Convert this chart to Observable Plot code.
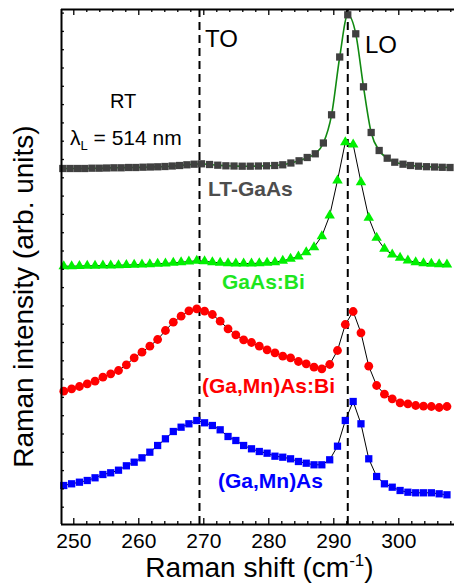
<!DOCTYPE html>
<html><head><meta charset="utf-8">
<script src="https://cdn.jsdelivr.net/npm/d3@7"></script>
<script src="https://cdn.jsdelivr.net/npm/@observablehq/plot@0.6"></script>
<style>
html,body{margin:0;padding:0;background:#fff;}
</style>
</head><body><div id="chart"></div>
<script>
// Raman shift sampling (cm^-1) for GaAs:Bi, (Ga,Mn)As:Bi and (Ga,Mn)As
const shiftGrid = [248.46, 249.67, 250.87, 252.07, 253.27, 254.48, 255.68, 256.88, 258.09, 259.29,
  260.49, 261.70, 262.90, 264.10, 265.31, 266.51, 267.71, 268.92, 270.12, 271.32,
  272.52, 273.73, 274.93, 276.13, 277.34, 278.54, 279.74, 280.95, 282.15, 283.35,
  284.56, 285.76, 286.96, 288.16, 289.37, 290.57, 291.77, 292.98, 294.18, 295.38,
  296.59, 297.79, 298.99, 300.20, 301.40, 302.60, 303.80, 305.01, 306.21, 307.41];
// Raman shift sampling for LT-GaAs
const ltShift = [248.31, 249.43, 250.55, 251.68, 252.80, 253.92, 255.05, 256.17, 257.29, 258.42,
  259.54, 260.66, 261.78, 262.91, 264.03, 265.15, 266.28, 267.40, 268.52, 269.65,
  270.89, 272.15, 273.40, 274.65, 275.91, 277.15, 278.40, 279.65, 280.91, 282.15,
  283.40, 284.66, 285.91, 287.15, 288.40, 289.66, 290.91, 292.15, 293.38, 294.57,
  295.75, 296.98, 298.22, 299.38, 300.65, 301.80, 303.03, 304.26, 305.49, 306.68, 307.88];
// Intensities (arb. units, vertically offset spectra)
const ltGaAs = [356, 356, 356, 356, 356.3, 356.3, 356.5, 356.7, 356.7, 357,
  357, 357.3, 357.5, 357.7, 358, 358.5, 359, 359.7, 360.3, 360.7,
  360, 359.3, 358.7, 358.5, 358.3, 358.3, 358.5, 358.7, 359, 359.7,
  361.5, 363.7, 367, 370.7, 381.5, 409.7, 467.5, 509.7, 490.7, 437.7,
  392, 374, 366.3, 362.3, 360.3, 359, 358.3, 357.8, 357.5, 357.2, 357];
const gaasBi = [258.3, 258.3, 258.5, 258.7, 258.7, 259, 259, 259.3, 259.5, 259.7,
  260, 260.3, 260.7, 261, 261.7, 262.3, 263, 263.7, 263.3, 262.3,
  261.7, 261.3, 261, 261, 261, 261.3, 261.7, 262.3, 263.7, 265.7,
  268, 272.3, 277.3, 288.3, 309, 344, 382.3, 380, 342.3, 306.7,
  286.7, 275.7, 270, 266.7, 264, 262.3, 261.3, 260.7, 260.3, 260];
const gaMnAsBi = [133.3, 135.7, 138, 140.7, 143.3, 147.3, 150.7, 154, 159.7, 166.7,
  172.3, 178.3, 185, 194, 202.3, 208.3, 213.7, 215.7, 213.3, 210,
  203.3, 195.7, 189.7, 184.7, 182, 178.3, 174.7, 171.7, 168.3, 166.7,
  163, 160.7, 157.3, 155.7, 160, 174, 200, 213, 191.7, 158.3,
  139, 130.3, 125.7, 121.7, 120.7, 119, 118.3, 118, 117, 118];
const gaMnAs = [39, 40.7, 42.3, 44, 46.7, 50, 51.7, 54.3, 58.7, 62.3,
  66.7, 72.3, 79, 85.7, 93, 97.3, 100.7, 104, 101.7, 99,
  94.7, 88, 84, 79, 75.7, 73, 71.3, 68.3, 67.3, 65.7,
  63, 61.3, 59.7, 59.7, 64.7, 78.3, 104, 123, 100.7, 65.7,
  48, 40.7, 37.3, 34, 32.3, 31.7, 31.7, 31.7, 30.7, 29.7];
// Phonon positions (TO, LO)
const phonons = [269.34, 292.15];
// Axis ticks
const xTickLabels = [250, 260, 270, 280, 290, 300];
const xMinorTicks = [252, 254, 256, 258, 262, 264, 266, 268, 272, 274, 276, 278, 282, 284, 286, 288, 292, 294, 296, 298, 302, 304, 306, 308];
const yTicks = [17.3, 35.6, 53.9, 72.2, 90.5, 108.8, 127.1, 145.4, 163.7, 182, 200.3, 218.6, 236.9, 255.2, 273.5, 291.8, 310.1, 328.4, 346.7, 365, 383.3, 401.6, 419.9, 438.2, 456.5, 474.8, 493.1, 511.4];

const X0 = 248.11, X1 = 308.57, Y1 = 515;
const toRows = (xs, ys) => xs.map((x, i) => ({x, y: ys[i]}));
const lt = toRows(ltShift, ltGaAs);
const bi = toRows(shiftGrid, gaasBi);
const mnBi = toRows(shiftGrid, gaMnAsBi);
const mn = toRows(shiftGrid, gaMnAs);

const font = "'Liberation Sans', Arial, sans-serif";
const chart = Plot.plot({
  width: 454, height: 585,
  marginLeft: 61, marginRight: 0, marginTop: 9, marginBottom: 61,
  style: {fontFamily: font, background: "white", overflow: "visible", color: "black"},
  x: {domain: [X0, X1]},
  y: {domain: [0, Y1]},
  marks: [
    Plot.ruleX(phonons, {x: d => d, y1: 0, y2: Y1, stroke: "black", strokeWidth: 2, strokeDasharray: "8,5"}),
    Plot.line(lt, {x: "x", y: "y", stroke: "#118a11", strokeWidth: 1.6, curve: "monotone-x"}),
    Plot.line(bi, {x: "x", y: "y", stroke: "black", strokeWidth: 1}),
    Plot.line(mnBi, {x: "x", y: "y", stroke: "black", strokeWidth: 1}),
    Plot.line(mn, {x: "x", y: "y", stroke: "black", strokeWidth: 1}),
    Plot.dot(lt, {x: "x", y: "y", symbol: "square", fill: "#404040", r: 4.1}),
    Plot.dot(bi, {x: "x", y: "y", symbol: "triangle", fill: "#00f000", r: 3.9}),
    Plot.dot(mnBi, {x: "x", y: "y", symbol: "circle", fill: "#ff0000", r: 4.4}),
    Plot.dot(mn, {x: "x", y: "y", symbol: "square", fill: "#0000ff", r: 4.1}),
    // frame
    Plot.ruleY([0, Y1], {y: d => d, x1: X0, x2: X1, stroke: "black", strokeWidth: 2}),
    Plot.ruleX([X0], {x: d => d, y1: 0, y2: Y1, stroke: "black", strokeWidth: 2}),
    // ticks (inward)
    Plot.ruleX(xTickLabels, {x: d => d, y1: 0, y2: 6, stroke: "black", strokeWidth: 1.3}),
    Plot.ruleX(xTickLabels, {x: d => d, y1: Y1, y2: Y1 - 6, stroke: "black", strokeWidth: 1.3}),
    Plot.ruleX(xMinorTicks, {x: d => d, y1: 0, y2: 3, stroke: "black", strokeWidth: 1.3}),
    Plot.ruleX(xMinorTicks, {x: d => d, y1: Y1, y2: Y1 - 3, stroke: "black", strokeWidth: 1.3}),
    Plot.ruleY(yTicks, {y: d => d, x1: X0, x2: X0 + 0.45, stroke: "black", strokeWidth: 1.3}),
    Plot.axisX({ticks: xTickLabels, tickSize: 0, tickPadding: 9, fontSize: 21, label: null, tickFormat: d => String(d), fill: "black"}),
    Plot.axisY({ticks: [], label: null})
  ]
});
document.getElementById("chart").appendChild(chart);

const svg = d3.select(chart);
const sx = chart.scale("x"), sy = chart.scale("y");
function note(xv, yv, txt, opts = {}) {
  return svg.append("text")
    .attr("x", sx.apply(xv)).attr("y", sy.apply(yv))
    .attr("text-anchor", "start")
    .attr("font-family", font)
    .attr("font-size", opts.size || 21)
    .attr("font-weight", opts.weight || "normal")
    .attr("fill", opts.fill || "black")
    .text(txt);
}
note(270.26, 477, "TO", {size: 24});
note(294.88, 471, "LO", {size: 24});
note(255.65, 416, "RT", {size: 20});
const lam = note(249.49, 379, "λ", {size: 21});
lam.append("tspan").attr("font-size", 13).attr("dy", 5).text("L");
lam.append("tspan").attr("dy", -5).text(" = 514 nm");
note(270.72, 328, "LT-GaAs", {weight: "bold", fill: "#4d4d4d"});
note(272.88, 235, "GaAs:Bi", {weight: "bold", fill: "#1ee61e"});
note(269.8, 131, "(Ga,Mn)As:Bi", {weight: "bold", fill: "#ff0000"});
note(272.26, 36, "(Ga,Mn)As", {weight: "bold", fill: "#0000ff"});

// axis titles
svg.append("text")
  .attr("transform", "translate(33,296.5) rotate(-90)")
  .attr("text-anchor", "middle")
  .attr("font-family", font).attr("font-size", 28).attr("fill", "black")
  .text("Raman intensity (arb. units)");
const xl = svg.append("text")
  .attr("x", 259.5).attr("y", 577)
  .attr("text-anchor", "middle")
  .attr("font-family", font).attr("font-size", 28).attr("fill", "black")
  .text("Raman shift (cm");
xl.append("tspan").attr("font-size", 17).attr("dy", -11).text("-1");
xl.append("tspan").attr("dy", 11).text(")");
</script>
</body></html>
